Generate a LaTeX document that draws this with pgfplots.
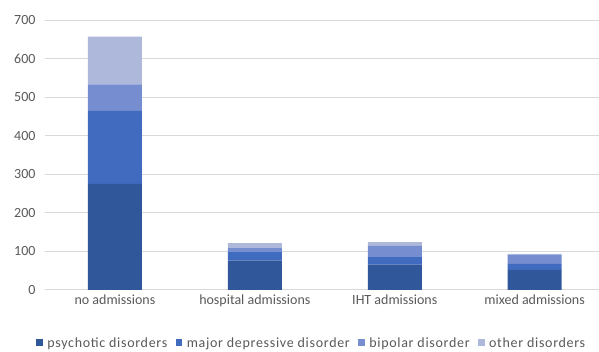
\documentclass[border=0pt]{standalone}
\usepackage{fontspec}
\setmainfont{Carlito}
\newfontfamily\legfont[LetterSpace=5]{Carlito}
\usepackage{pgfplots}
\pgfplotsset{compat=1.18}
\definecolor{cpsy}{RGB}{49,87,155}
\definecolor{cmdd}{RGB}{64,107,190}
\definecolor{cbip}{RGB}{118,142,208}
\definecolor{coth}{RGB}{174,184,219}
\definecolor{txt}{RGB}{89,89,89}
\definecolor{grd}{RGB}{217,217,217}
\begin{document}
\begin{tikzpicture}
\begin{axis}[
  at={(0,0)}, anchor=south west,
  scale only axis, width=554pt, height=270pt,
  ybar stacked, bar width=0.386,
  xmin=-0.5, xmax=3.457, ymin=0, ymax=700,
  ytick distance=100,
  xtick=data,
  xticklabels={no admissions, hospital admissions, IHT admissions, mixed admissions},
  major tick length=0pt,
  axis line style={draw=none},
  ymajorgrids, grid style={grd, line width=0.8pt},
  /pgf/number format/assume math mode=true,
  tick label style={font=\fontsize{14}{16}\selectfont, text=txt},
  yticklabel style={xshift=-6pt},
  xticklabel style={yshift=-1pt},
  legend style={at={(0.5,-62pt)}, xshift=-10pt, anchor=south, draw=none, fill=none,
    legend columns=4, font=\legfont\fontsize{14}{16}\selectfont, text=txt,
    /tikz/every odd column/.append style={column sep=2.5pt},
    /tikz/every even column/.append style={column sep=6.5pt},
    legend cell align=left, inner sep=1pt},
  legend image code/.code={\fill[#1] (0pt,-3pt) rectangle (6.5pt,3.5pt);},
]
\addplot[fill=cpsy, draw=none] coordinates {(0,275) (1,76) (2,65) (3,52)};
\addplot[fill=cmdd, draw=none] coordinates {(0,189) (1,23) (2,20) (3,15)};
\addplot[fill=cbip, draw=none] coordinates {(0,69) (1,9) (2,29) (3,24)};
\addplot[fill=coth, draw=none] coordinates {(0,124) (1,13) (2,10) (3,2)};
\legend{psychotic disorders, major depressive disorder, bipolar disorder, other disorders}
\end{axis}
\path[use as bounding box] (-45pt,-62pt) rectangle (554pt,290pt);
\end{tikzpicture}
\end{document}
